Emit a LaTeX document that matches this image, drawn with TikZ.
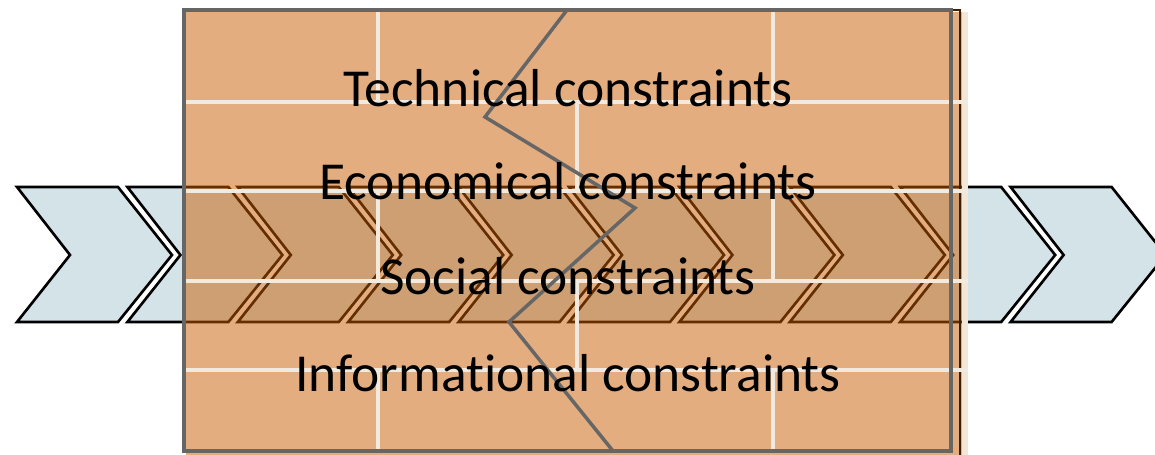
\documentclass[tikz,border=0pt]{standalone}
\usepackage{fontspec}
\setmainfont[Ligatures=NoCommon]{Carlito}
\definecolor{chevblue}{RGB}{211,227,232}
\definecolor{brickorange}{RGB}{200,92,0}
\definecolor{mortar}{RGB}{242,234,222}
\definecolor{framegray}{RGB}{102,102,102}
\definecolor{edgetint}{RGB}{244,230,214}
\definecolor{edgebrown}{RGB}{60,30,5}
\begin{document}
\begin{tikzpicture}[x=0.02cm, y=-0.02cm, font=\fontsize{30.4}{35}\selectfont,
	chev/.style={fill=chevblue, draw=black, line width=1.5pt},
	mortarline/.style={draw=mortar, line width=1.8pt},
	breakline/.style={draw=framegray, line width=2pt}]
	\clip (0,0) rectangle (1155,455);
	% Points of the frame and of the break line
	\path
	(184,10) coordinate (TL)
	(951,451) coordinate (BR)
	(567,10) coordinate (Z1)
	(485,117) coordinate (Z2)
	(635,208) coordinate (Z3)
	(509,322) coordinate (Z4)
	(613,451) coordinate (Z5);
	% Row of chevrons
	\foreach \i in {0,...,9}
	\draw[chev] ({17+110.4*\i},187) -- ++(101,0) -- ++(54,68) -- ++(-54,67) -- ++(-101,0) -- ++(53,-67) -- cycle;
	% Brick wall laid over the chevrons
	\fill[brickorange, fill opacity=0.5] (186,12) rectangle (962,455);
	\fill[edgetint] (962,12) rectangle (968,455);
	\draw[edgebrown, line width=1pt] (953,10) -- (960,10) -- (960,455);
	\foreach \y in {102,191,281,370}
	\draw[mortarline] (186,\y) -- (968,\y);
	\foreach \ya/\yb in {12/102, 191/281, 370/451}
	\foreach \x in {378,773}
	\draw[mortarline] (\x,\ya) -- (\x,\yb);
	\foreach \ya/\yb in {102/191, 281/370}
	\draw[mortarline] (577,\ya) -- (577,\yb);
	% Frame and zigzag break
	\draw[breakline] (TL) rectangle (BR);
	\draw[breakline] (Z1) -- (Z2) -- (Z3) -- (Z4) -- (Z5);
	% Labels
	\foreach \name/\y/\kind in {tech/107/Technical, econ/200/Economical, soc/295/Social, info/392/Informational}
	\node[anchor=base, inner sep=0pt] (\name) at (568,\y) {\kind{} constraints};
\end{tikzpicture}
\end{document}
